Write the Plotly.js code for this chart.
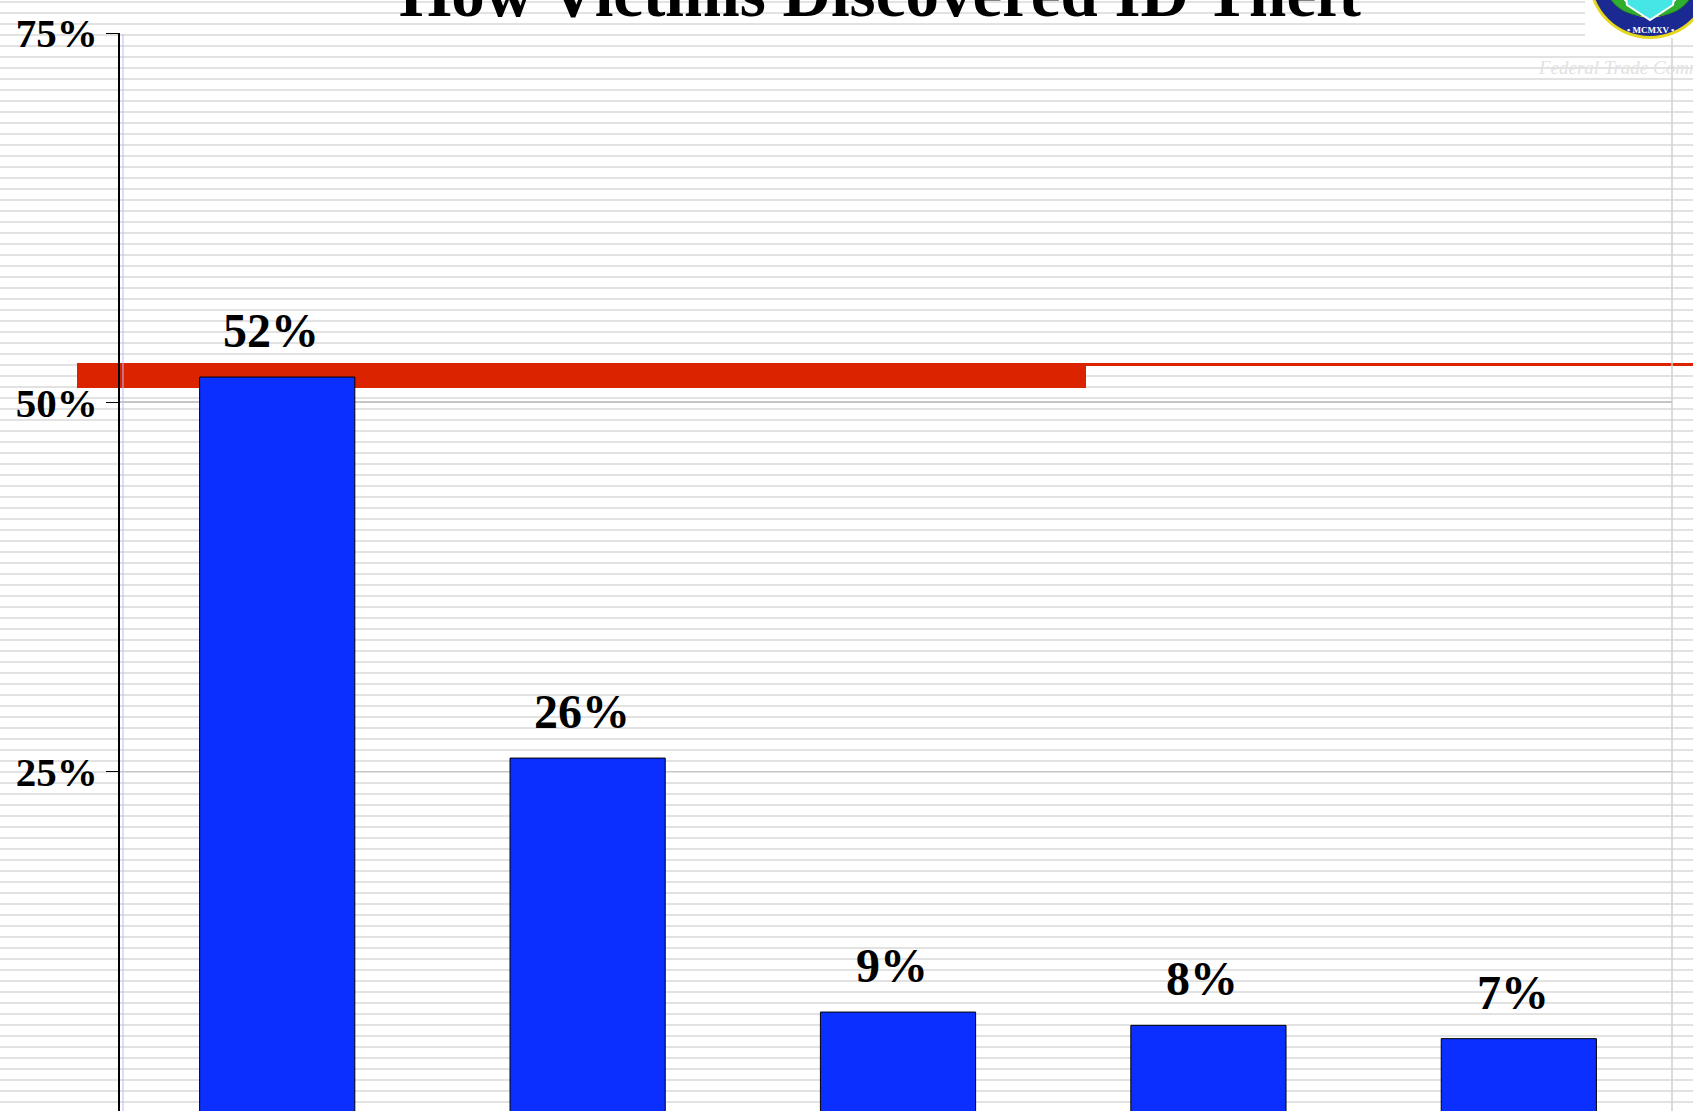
<!DOCTYPE html>
<html>
<head>
<meta charset="utf-8">
<script src="https://cdn.plot.ly/plotly-3.0.1.min.js"></script>
<style>
  html, body { margin: 0; padding: 0; }
  body {
    width: 1693px; height: 1111px; overflow: hidden;
    background-color: #ffffff;
    background-image: repeating-linear-gradient(to bottom,
      #ffffff 0px, #ffffff 1px,
      #e2e2e2 1px, #e2e2e2 3px,
      #ffffff 3px, #ffffff 11px);
  }
  #chart { width: 1693px; height: 1111px; }
</style>
</head>
<body>
<div id="chart"></div>
<script>
// ---- data ----
const title = "How Victims Discovered ID Theft";
const categories = ["Monitoring Accounts", "Notified by Company", "Other Means", "Denied Credit", "Contacted by Collector"];
const values = [51.7, 25.9, 8.7, 7.8, 6.9];
const valueLabels = ["52%", "26%", "9%", "8%", "7%"];
const yTickVals = [25, 50, 75];
const yTickText = ["25%", "50%", "75%"];
const logoText = "Federal Trade Commission";

// ---- geometry helpers (figure pixels -> paper coords) ----
const W = 1693, H = 1111;
const M = {l: 120, r: 21, t: 33, b: 0};
const PW = W - M.l - M.r, PH = H - M.t - M.b;
const X = px => (px - M.l) / PW;
const Y = py => (H - M.b - py) / PH;

const serif = "'Liberation Serif', 'Times New Roman', serif";
const red = "#dc2300";

const trace = {
  type: "bar",
  x: categories.map((c, i) => i),
  y: values,
  marker: {color: "#0b2fff", line: {color: "#000000", width: 1}},
  width: 0.5,
  hoverinfo: "skip"
};

const annotations = values.map((v, i) => ({
  x: i, y: v, xref: "x", yref: "y",
  text: valueLabels[i],
  showarrow: false,
  yanchor: "bottom", xanchor: "center",
  xshift: -6, yshift: 18,
  font: {family: serif, size: 48, color: "#000000", weight: 700}
}));

annotations.push({
  x: X(1536), y: Y(80), xref: "paper", yref: "paper",
  xanchor: "left", yanchor: "bottom",
  text: "<i>" + logoText + "</i>", showarrow: false,
  font: {family: serif, size: 19, color: "#e2e2e2"}
});
annotations.push({
  x: X(1650), y: Y(30), xref: "paper", yref: "paper",
  xanchor: "center", yanchor: "middle",
  text: "<b>• MCMXV •</b>", showarrow: false,
  font: {family: serif, size: 9, color: "#ffffff"}
});

const shapes = [
  // red highlight band
  {type: "rect", xref: "paper", yref: "paper", layer: "below",
   x0: X(77), x1: X(1086), y0: Y(388), y1: Y(363),
   fillcolor: red, line: {width: 0}},
  {type: "rect", xref: "paper", yref: "paper", layer: "below",
   x0: X(1086), x1: X(W + 5), y0: Y(366), y1: Y(363),
   fillcolor: red, line: {width: 0}},
  // light blue line next to axis
  {type: "line", xref: "paper", yref: "paper", layer: "above",
   x0: X(123), x1: X(123), y0: Y(H), y1: Y(34),
   line: {color: "#b4bcff", width: 1}},
  // right border
  {type: "line", xref: "paper", yref: "paper", layer: "below",
   x0: X(1672), x1: X(1672), y0: Y(H), y1: Y(38),
   line: {color: "#d0d0d0", width: 1.5}},
  // logo white box
  {type: "rect", xref: "paper", yref: "paper", layer: "above",
   x0: X(1585), x1: X(W + 5), y0: Y(38), y1: Y(-5),
   fillcolor: "#ffffff", line: {width: 0}},
  // seal
  {type: "circle", xref: "paper", yref: "paper", layer: "above",
   x0: X(1588), x1: X(1712), y0: Y(39), y1: Y(-85),
   fillcolor: "#e6d81c", line: {width: 0}},
  {type: "circle", xref: "paper", yref: "paper", layer: "above",
   x0: X(1591), x1: X(1709), y0: Y(36), y1: Y(-82),
   fillcolor: "#1b2a93", line: {width: 0}},
  {type: "circle", xref: "paper", yref: "paper", layer: "above",
   x0: X(1610), x1: X(1690), y0: Y(17), y1: Y(-63),
   fillcolor: "#ffffff", line: {color: "#e6d81c", width: 1.5}},
  {type: "path", xref: "paper", yref: "paper", layer: "above",
   path: `M ${X(1611)} ${Y(0)} Q ${X(1621)} ${Y(14)} ${X(1642)} ${Y(16)} Q ${X(1628)} ${Y(6)} ${X(1619)} ${Y(-4)} Z`,
   fillcolor: "#2fae2f", line: {color: "#1d7a1d", width: 0.8}},
  {type: "path", xref: "paper", yref: "paper", layer: "above",
   path: `M ${X(1689)} ${Y(0)} Q ${X(1679)} ${Y(14)} ${X(1658)} ${Y(16)} Q ${X(1672)} ${Y(6)} ${X(1681)} ${Y(-4)} Z`,
   fillcolor: "#2fae2f", line: {color: "#1d7a1d", width: 0.8}},
  {type: "path", xref: "paper", yref: "paper", layer: "above",
   path: `M ${X(1625)} ${Y(-10)} L ${X(1675)} ${Y(-10)} L ${X(1673)} ${Y(5)} L ${X(1650)} ${Y(20)} L ${X(1627)} ${Y(5)} Z`,
   fillcolor: "#46e6e6", line: {color: "#ffffff", width: 2}}
];

const layout = {
  width: W, height: H,
  margin: M,
  paper_bgcolor: "rgba(0,0,0,0)",
  plot_bgcolor: "rgba(0,0,0,0)",
  showlegend: false,
  title: {
    text: "<b>" + title + "</b>",
    x: 880 / W, xanchor: "center", xref: "container",
    y: 1 - 16 / H, yanchor: "bottom", yref: "container",
    font: {family: serif, size: 67, color: "#000000"}
  },
  xaxis: {
    range: [-0.5065, 4.4935],
    showticklabels: false, ticks: "", showgrid: false, zeroline: false,
    showline: false, fixedrange: true
  },
  yaxis: {
    range: [2, 75],
    tickvals: yTickVals, ticktext: yTickText,
    ticks: "outside", ticklen: 12, tickwidth: 1, tickcolor: "#000000",
    showline: true, linecolor: "#000000", linewidth: 2,
    showgrid: true, gridcolor: "#c6c6c6", gridwidth: 1.5,
    zeroline: false,
    tickfont: {family: serif, size: 41, color: "#000000", weight: 700},
    fixedrange: true
  },
  annotations: annotations,
  shapes: shapes
};

Plotly.newPlot("chart", [trace], layout, {staticPlot: true, displayModeBar: false});
</script>
</body>
</html>
